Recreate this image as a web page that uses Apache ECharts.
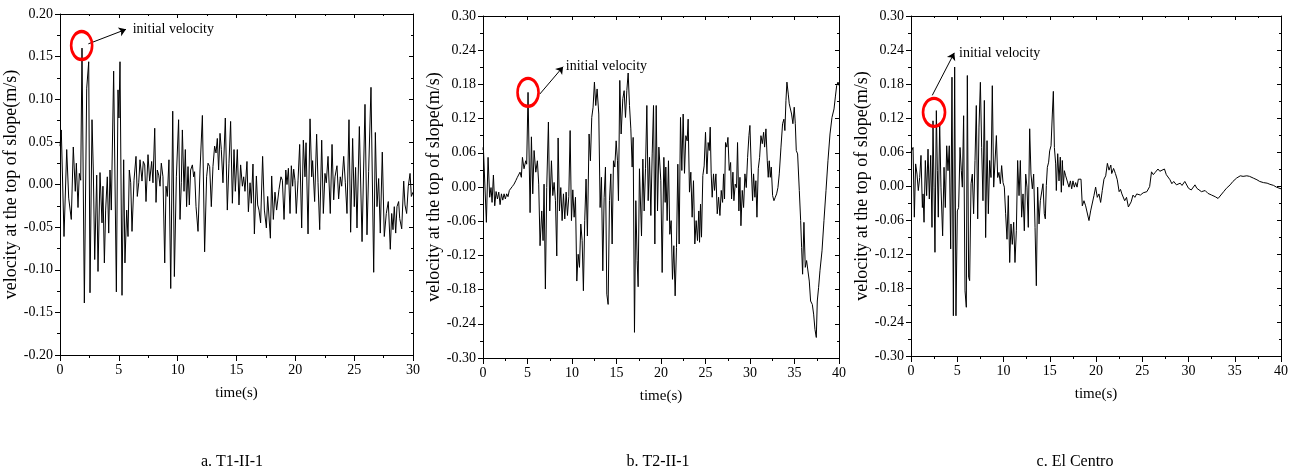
<!DOCTYPE html>
<html>
<head>
<meta charset="utf-8">
<script src="https://cdn.jsdelivr.net/npm/echarts@6/dist/echarts.min.js"></script>
<style>
html,body{margin:0;padding:0;background:#fff;}
#c{width:1294px;height:474px;}
</style>
</head>
<body>
<div id="c"></div>
<script>
// ---------------- DATA ----------------
const panelCaptions = ['a. T1-II-1', 'b. T2-II-1', 'c. El Centro'];
const xAxisTitle = 'time(s)';
const yAxisTitle = 'velocity at the top of slope(m/s)';
const annotationText = 'initial velocity';
const timeMax = [30, 40, 40];
const yRange = [[-0.20, 0.20], [-0.30, 0.30], [-0.30, 0.30]];
const yStep = [0.05, 0.06, 0.06];
const xStep = 5;

// [time (s), velocity (m/s)]
const seriesA = [[0,0.045],[0.11,0.064],[0.34,-0.061],[0.57,0.041],[0.74,-0.016],[0.96,-0.041],[1.13,0.044],[1.30,-0.008],[1.39,0.025],[1.53,-0.027],[1.64,0.013],[1.76,0.005],[1.87,0.160],[2.07,-0.139],[2.27,0.113],[2.44,0.144],[2.55,-0.127],[2.72,0.076],[2.83,0.017],[2.95,-0.088],[3.12,0.011],[3.23,-0.102],[3.40,0.014],[3.57,-0.045],[3.65,-0.002],[3.77,-0.092],[3.88,-0.030],[4.02,0.009],[4.14,-0.057],[4.25,0.017],[4.36,-0.030],[4.56,0.133],[4.79,-0.126],[4.93,0.111],[5.01,0.078],[5.10,0.144],[5.27,-0.130],[5.41,0.029],[5.52,-0.092],[5.67,-0.030],[5.78,-0.061],[5.89,0.017],[6.01,0.002],[6.12,-0.055],[6.29,0.005],[6.46,0.033],[6.57,-0.014],[6.69,0.002],[6.80,0.029],[6.97,0.004],[7.08,0.027],[7.20,0.023],[7.31,-0.020],[7.48,0.035],[7.62,0.004],[7.79,0.027],[7.90,0.002],[8.05,0.066],[8.16,-0.021],[8.27,0.017],[8.39,0.011],[8.50,-0.002],[8.61,0.025],[8.75,0.009],[8.90,-0.092],[9.01,-0.002],[9.12,-0.014],[9.26,0.029],[9.41,-0.122],[9.58,0.086],[9.72,-0.108],[9.89,0.009],[10.08,0.076],[10.20,-0.041],[10.31,0.002],[10.40,0.064],[10.54,-0.008],[10.65,0.041],[10.76,-0.026],[10.88,0.021],[10.99,-0.024],[11.10,0.017],[11.25,0.023],[11.36,0.009],[11.44,0.015],[11.56,-0.026],[11.73,-0.055],[11.90,0.017],[12.10,0.081],[12.29,-0.079],[12.46,0.009],[12.58,0.025],[12.72,0.021],[12.86,-0.026],[13.00,0.021],[13.14,0.045],[13.26,0.037],[13.37,0.054],[13.48,0.017],[13.60,0.060],[13.71,0.041],[13.85,0.002],[14.05,0.078],[14.22,-0.030],[14.36,0.025],[14.50,0.074],[14.65,-0.022],[14.79,0.041],[14.90,-0.008],[15.07,0.041],[15.21,-0.024],[15.35,0.023],[15.50,-0.002],[15.61,0.009],[15.72,-0.008],[15.89,0.027],[16.01,-0.032],[16.15,0.002],[16.26,-0.022],[16.40,0.024],[16.52,-0.058],[16.69,0.010],[16.80,-0.024],[16.91,-0.030],[17.05,-0.045],[17.22,0.033],[17.37,-0.030],[17.54,-0.051],[17.65,-0.014],[17.88,-0.063],[17.99,0.010],[18.13,-0.041],[18.27,-0.009],[18.41,-0.030],[18.61,-0.006],[18.78,0.009],[18.90,0.005],[19.04,-0.041],[19.19,0.017],[19.29,0.000],[19.41,0.019],[19.55,-0.034],[19.66,0.022],[19.77,-0.002],[19.86,0.018],[19.97,0.005],[20.08,-0.034],[20.23,0.005],[20.37,0.047],[20.54,-0.051],[20.68,0.052],[20.82,0.009],[20.91,0.049],[21.08,-0.058],[21.25,0.077],[21.39,0.009],[21.47,0.028],[21.64,-0.020],[21.81,0.059],[21.93,0.002],[22.07,-0.053],[22.24,0.052],[22.38,-0.034],[22.52,0.013],[22.63,0.002],[22.78,0.033],[22.97,-0.034],[23.12,0.047],[23.26,-0.018],[23.37,0.009],[23.54,0.022],[23.68,-0.017],[23.82,0.009],[23.94,-0.002],[24.11,0.033],[24.25,0.002],[24.39,-0.034],[24.56,0.076],[24.70,-0.056],[24.87,0.054],[25.01,-0.026],[25.12,0.020],[25.24,-0.051],[25.44,0.068],[25.67,-0.067],[25.92,0.094],[26.09,-0.059],[26.23,0.015],[26.43,0.114],[26.66,-0.103],[26.80,0.061],[26.94,-0.026],[27.08,0.007],[27.22,-0.057],[27.39,0.038],[27.56,-0.061],[27.73,-0.034],[27.90,-0.020],[28.07,-0.076],[28.19,-0.034],[28.30,-0.053],[28.41,-0.026],[28.53,-0.057],[28.64,-0.026],[28.78,-0.020],[28.87,-0.040],[29.04,-0.052],[29.21,0.004],[29.32,-0.024],[29.46,-0.034],[29.60,-0.002],[29.75,0.013],[29.86,-0.014],[30.00,-0.009]];

const seriesB = [[0,0.065],[0.04,0.070],[0.19,0.067],[0.38,-0.062],[0.57,0.052],[0.75,-0.018],[0.90,-0.001],[1.02,-0.027],[1.17,0.021],[1.32,-0.033],[1.47,-0.008],[1.62,-0.021],[1.77,-0.009],[1.92,-0.031],[2.07,-0.012],[2.22,-0.023],[2.37,-0.012],[2.51,-0.021],[2.66,-0.012],[2.81,-0.017],[2.96,-0.006],[3.11,-0.009],[3.30,0.001],[3.49,0.005],[3.68,0.011],[3.86,0.017],[4.05,0.018],[4.16,0.026],[4.31,0.017],[4.43,0.052],[4.61,0.032],[4.80,0.046],[4.91,0.040],[5.06,0.166],[5.29,-0.045],[5.44,0.088],[5.59,-0.012],[5.74,0.064],[5.93,0.026],[6.11,0.046],[6.26,0.005],[6.41,-0.103],[6.60,-0.042],[6.75,-0.094],[6.86,0.005],[7.01,-0.179],[7.16,-0.001],[7.35,0.114],[7.50,-0.042],[7.69,0.046],[7.84,-0.015],[7.99,0.008],[8.14,-0.024],[8.29,-0.121],[8.44,0.086],[8.59,-0.042],[8.74,-0.001],[8.89,-0.059],[9.04,-0.012],[9.19,-0.056],[9.34,-0.009],[9.49,-0.050],[9.64,-0.017],[9.79,0.099],[9.94,-0.059],[10.09,-0.005],[10.24,-0.053],[10.39,-0.018],[10.54,-0.165],[10.69,-0.118],[10.84,-0.141],[10.99,-0.065],[11.14,-0.094],[11.28,-0.182],[11.43,-0.059],[11.58,0.014],[11.73,-0.086],[11.92,0.093],[12.07,0.046],[12.22,0.122],[12.37,0.140],[12.52,0.184],[12.67,0.143],[12.82,0.172],[13.01,0.128],[13.16,-0.036],[13.31,0.017],[13.46,-0.147],[13.61,-0.018],[13.76,0.035],[13.91,-0.188],[14.06,-0.206],[14.21,-0.024],[14.36,0.023],[14.51,-0.100],[14.66,0.046],[14.81,0.035],[14.96,0.081],[15.11,0.046],[15.22,-0.024],[15.37,0.187],[15.52,0.093],[15.71,0.155],[15.86,0.169],[16.01,0.122],[16.16,0.169],[16.31,0.200],[16.46,0.143],[16.61,0.102],[16.76,0.035],[16.87,0.087],[17.02,-0.255],[17.17,-0.024],[17.32,-0.129],[17.43,-0.175],[17.58,0.032],[17.81,-0.086],[17.96,0.049],[18.11,-0.042],[18.26,0.032],[18.41,0.143],[18.56,-0.024],[18.71,0.052],[18.86,-0.050],[19.01,0.058],[19.16,0.143],[19.31,-0.100],[19.46,0.143],[19.61,-0.042],[19.76,0.070],[19.98,0.011],[20.13,-0.150],[20.32,0.052],[20.47,-0.027],[20.54,0.035],[20.69,-0.059],[20.84,0.046],[20.99,-0.083],[21.14,-0.059],[21.29,-0.162],[21.44,-0.103],[21.59,-0.191],[21.74,-0.106],[21.89,0.040],[22.04,-0.100],[22.19,0.122],[22.34,0.029],[22.49,0.128],[22.64,0.024],[22.79,0.090],[22.94,0.081],[23.05,0.119],[23.20,-0.009],[23.35,0.026],[23.50,-0.053],[23.65,0.011],[23.80,-0.100],[23.95,-0.059],[24.10,-0.094],[24.25,-0.042],[24.33,-0.097],[24.44,-0.030],[24.55,-0.088],[24.70,0.020],[24.85,0.037],[25.00,0.096],[25.16,0.023],[25.30,0.078],[25.42,0.064],[25.53,0.105],[25.64,0.023],[25.75,-0.018],[25.90,0.023],[26.02,-0.006],[26.17,0.023],[26.32,-0.047],[26.47,-0.018],[26.62,-0.050],[26.77,-0.006],[26.92,-0.027],[27.03,0.023],[27.14,-0.021],[27.25,0.078],[27.40,0.070],[27.52,0.087],[27.67,0.029],[27.82,0.043],[27.93,-0.021],[28.08,0.026],[28.19,-0.024],[28.34,0.005],[28.49,-0.001],[28.60,0.078],[28.75,-0.042],[28.87,0.017],[28.98,-0.068],[29.13,-0.006],[29.28,-0.036],[29.43,0.023],[29.58,-0.001],[29.73,0.052],[29.88,0.090],[29.99,0.108],[30.14,0.035],[30.29,-0.024],[30.40,0.023],[30.55,-0.018],[30.66,0.011],[30.78,-0.053],[30.93,0.032],[31.08,0.052],[31.23,0.090],[31.38,0.076],[31.53,0.096],[31.64,0.070],[31.79,0.102],[31.94,0.046],[32.05,0.017],[32.16,0.046],[32.28,0.017],[32.39,0.035],[32.54,-0.015],[32.69,-0.024],[32.84,-0.018],[32.99,-0.012],[33.14,-0.001],[33.29,0.023],[33.48,0.070],[33.66,0.111],[33.81,0.119],[33.92,0.099],[34.04,0.152],[34.15,0.184],[34.30,0.163],[34.41,0.146],[34.52,0.149],[34.67,0.128],[34.82,0.111],[34.97,0.140],[35.09,0.111],[35.20,0.064],[35.35,0.058],[35.54,-0.006],[35.69,-0.059],[35.80,-0.106],[35.91,-0.153],[36.06,-0.062],[36.21,-0.141],[36.36,-0.129],[36.51,-0.132],[36.66,-0.165],[36.81,-0.200],[37.00,-0.206],[37.15,-0.223],[37.30,-0.250],[37.45,-0.264],[37.56,-0.200],[37.71,-0.176],[37.86,-0.147],[38.09,-0.112],[38.31,-0.059],[38.54,-0.006],[38.76,0.046],[38.99,0.093],[39.21,0.122],[39.44,0.137],[39.59,0.158],[39.74,0.178],[39.89,0.184],[40.00,0.178]];

const seriesC = [[0,0.060],[0.07,0.062],[0.22,0.068],[0.36,-0.055],[0.50,0.039],[0.65,0.021],[0.79,-0.008],[0.94,0.015],[1.08,0.054],[1.23,-0.038],[1.30,-0.014],[1.41,-0.064],[1.55,0.045],[1.69,-0.017],[1.84,0.065],[1.98,-0.023],[2.13,0.054],[2.27,-0.073],[2.38,0.115],[2.49,-0.002],[2.59,-0.117],[2.74,0.133],[2.85,0.027],[2.95,-0.055],[3.10,0.110],[3.24,-0.002],[3.42,-0.088],[3.57,0.033],[3.71,-0.038],[3.86,0.071],[4.00,0.027],[4.14,0.071],[4.29,-0.111],[4.43,0.192],[4.58,-0.229],[4.72,0.210],[4.86,-0.229],[5.01,-0.044],[5.15,-0.038],[5.30,0.068],[5.44,0.027],[5.55,-0.002],[5.69,0.124],[5.84,-0.185],[5.98,-0.214],[6.09,0.195],[6.23,-0.161],[6.34,-0.167],[6.49,0.004],[6.63,0.021],[6.77,-0.049],[6.92,0.045],[7.06,0.142],[7.21,-0.058],[7.35,0.104],[7.50,0.183],[7.64,0.068],[7.78,-0.026],[7.93,0.151],[8.07,-0.091],[8.22,0.080],[8.36,-0.049],[8.50,0.045],[8.65,0.015],[8.79,0.177],[8.94,-0.002],[9.08,-0.002],[9.23,0.089],[9.37,0.015],[9.51,0.024],[9.66,0.004],[9.80,0.036],[9.95,0.006],[10.09,-0.002],[10.23,-0.049],[10.38,-0.094],[10.52,-0.017],[10.67,-0.135],[10.81,-0.067],[10.95,-0.103],[11.10,-0.064],[11.24,-0.135],[11.39,-0.079],[11.53,0.045],[11.68,-0.017],[11.82,0.045],[11.96,-0.055],[12.11,-0.014],[12.25,-0.079],[12.40,0.021],[12.54,-0.002],[12.68,-0.073],[12.83,0.101],[12.97,0.021],[13.12,-0.005],[13.26,0.021],[13.41,-0.073],[13.55,-0.176],[13.69,-0.002],[13.84,-0.067],[13.98,-0.026],[14.13,-0.026],[14.27,0.004],[14.41,-0.049],[14.52,-0.058],[14.63,0.001],[14.74,0.033],[14.88,0.042],[14.99,0.062],[15.14,0.071],[15.28,0.127],[15.39,0.167],[15.50,0.068],[15.64,0.039],[15.71,-0.008],[15.86,0.057],[16.00,0.009],[16.14,0.051],[16.25,-0.011],[16.36,0.045],[16.47,0.001],[16.58,0.027],[16.72,0.018],[16.90,0.015],[17.08,-0.002],[17.23,0.009],[17.37,-0.005],[17.51,0.009],[17.66,-0.002],[17.80,0.006],[17.95,-0.002],[18.09,0.012],[18.23,0.009],[18.38,0.012],[18.52,-0.035],[18.70,-0.026],[18.88,-0.035],[19.06,-0.032],[19.24,-0.061],[19.42,-0.044],[19.60,-0.047],[19.78,-0.017],[19.96,-0.002],[20.14,-0.020],[20.32,-0.014],[20.50,-0.029],[20.68,-0.008],[20.86,0.012],[21.05,0.018],[21.23,0.040],[21.41,0.028],[21.6,0.037],[21.7,0.022],[21.9,0.031],[22.1,0.022],[22.3,0.011],[22.5,-0.010],[22.65,-0.006],[22.8,-0.014],[23.1,-0.026],[23.3,-0.020],[23.5,-0.037],[23.8,-0.028],[24.0,-0.016],[24.2,-0.020],[24.4,-0.014],[24.6,-0.012],[24.8,-0.016],[25.1,-0.012],[25.3,-0.015],[25.5,-0.010],[25.8,-0.001],[26.0,0.025],[26.2,0.020],[26.4,0.024],[26.7,0.030],[26.9,0.026],[27.1,0.024],[27.4,0.030],[27.6,0.020],[28.0,0.011],[28.2,0.004],[28.4,0.008],[28.7,0.002],[29.1,0.005],[29.3,0.001],[29.5,-0.001],[29.6,0.008],[30.0,-0.004],[30.3,-0.007],[30.7,0.002],[30.9,-0.004],[31.1,-0.007],[31.4,-0.010],[31.8,-0.008],[32.1,-0.013],[32.5,-0.016],[32.9,-0.019],[33.2,-0.022],[33.4,-0.019],[33.8,-0.010],[34.1,-0.004],[34.5,0.002],[34.8,0.008],[35.2,0.014],[35.6,0.018],[35.9,0.017],[36.3,0.018],[36.6,0.017],[37.0,0.014],[37.4,0.011],[37.7,0.008],[38.1,0.006],[38.5,0.005],[38.8,0.003],[39.2,0.001],[39.5,-0.002],[40.0,-0.005]];

// annotation anchors in data units: circle centre, arrow start, arrow end, text start
const circleAt = [[1.84, 0.163], [5.06, 0.166], [2.49, 0.130]];
const arrowFrom = [[2.41, 0.165], [6.38, 0.163], [2.30, 0.160]];
const arrowTo = [[5.61, 0.182], [9.00, 0.211], [4.68, 0.235]];
const textAt = [[6.18, 0.182], [9.30, 0.211], [5.19, 0.235]];

// ---------------- LAYOUT / STYLE ----------------
const FONT = '"Liberation Serif", "Times New Roman", serif';
const grids = [
  {left: 60, top: 14, width: 353, height: 341},
  {left: 483, top: 16, width: 356, height: 342},
  {left: 911, top: 16, width: 370, height: 340}
];
const ellipseSize = [[21, 28], [21, 28], [22, 28]];
const captionPos = [[232, 462], [658, 462], [1075, 462]];
const ELLIPSE = 'path://M0,-10C5.52,-10,10,-5.52,10,0C10,5.52,5.52,10,0,10C-5.52,10,-10,5.52,-10,0C-10,-5.52,-5.52,-10,0,-10Z';

const allSeries = [seriesA, seriesB, seriesC];

const xAxes = [], yAxes = [], series = [], graphics = [];
const fmtY = v => (Math.abs(v) < 1e-9 ? '0.00' : v.toFixed(2));

for (let i = 0; i < 3; i++) {
  const line = {show: true, onZero: false, lineStyle: {color: '#000', width: 1}};
  xAxes.push({
    gridIndex: i, type: 'value', position: 'bottom', min: 0, max: timeMax[i], interval: xStep,
    axisLine: line,
    axisTick: {show: true, inside: false, length: 6, lineStyle: {color: '#000'}},
    minorTick: {show: true, splitNumber: 2, length: 3, lineStyle: {color: '#000'}},
    splitLine: {show: false}, minorSplitLine: {show: false},
    axisLabel: {color: '#000', fontFamily: FONT, fontSize: 14, margin: 8},
    name: xAxisTitle, nameLocation: 'middle', nameGap: 31,
    nameTextStyle: {color: '#000', fontFamily: FONT, fontSize: 15}
  });
  xAxes.push({
    gridIndex: i, type: 'value', position: 'top', min: 0, max: timeMax[i], interval: xStep,
    axisLine: line,
    axisTick: {show: true, inside: true, length: 4, lineStyle: {color: '#000'}},
    minorTick: {show: true, splitNumber: 2, length: 2, lineStyle: {color: '#000'}},
    splitLine: {show: false}, minorSplitLine: {show: false},
    axisLabel: {show: false}
  });
  yAxes.push({
    gridIndex: i, type: 'value', position: 'left', min: yRange[i][0], max: yRange[i][1], interval: yStep[i],
    axisLine: line,
    axisTick: {show: true, inside: false, length: 5, lineStyle: {color: '#000'}},
    minorTick: {show: true, splitNumber: 2, length: 3, lineStyle: {color: '#000'}},
    splitLine: {show: false}, minorSplitLine: {show: false},
    axisLabel: {color: '#000', fontFamily: FONT, fontSize: 14, margin: 7, formatter: fmtY},
    name: yAxisTitle, nameLocation: 'middle', nameGap: 35, nameRotate: 90,
    nameTextStyle: {color: '#000', fontFamily: FONT, fontSize: 18}
  });
  yAxes.push({
    gridIndex: i, type: 'value', position: 'right', min: yRange[i][0], max: yRange[i][1], interval: yStep[i],
    axisLine: line,
    axisTick: {show: true, inside: true, length: 4, lineStyle: {color: '#000'}},
    minorTick: {show: true, splitNumber: 2, length: 2, lineStyle: {color: '#000'}},
    splitLine: {show: false}, minorSplitLine: {show: false},
    axisLabel: {show: false}
  });
  series.push({
    type: 'line', xAxisIndex: 2 * i, yAxisIndex: 2 * i,
    data: allSeries[i], showSymbol: false, symbol: 'none',
    lineStyle: {color: '#000', width: 1}, silent: true, z: 2,
    markPoint: {
      silent: true, animation: false,
      data: [
        {coord: circleAt[i], symbol: ELLIPSE, symbolSize: ellipseSize[i],
         itemStyle: {color: 'rgba(0,0,0,0)', borderColor: '#ff0000', borderWidth: 3},
         label: {show: false}},
        {coord: textAt[i], symbol: 'circle', symbolSize: 0,
         itemStyle: {color: 'rgba(0,0,0,0)'},
         label: {show: true, position: 'right', distance: 0, formatter: annotationText,
                 color: '#000', fontFamily: FONT, fontSize: 14}}
      ]
    },
    markLine: {
      silent: true, animation: false, symbol: ['none', 'arrow'], symbolSize: 7,
      lineStyle: {color: '#000', width: 1, type: 'solid'},
      label: {show: false},
      data: [[{coord: arrowFrom[i]}, {coord: arrowTo[i]}]]
    }
  });
  graphics.push({
    type: 'text', x: captionPos[i][0], y: captionPos[i][1],
    style: {text: panelCaptions[i], fill: '#000', font: '16px ' + FONT, textAlign: 'center', textVerticalAlign: 'middle'}
  });
}

const chart = echarts.init(document.getElementById('c'), null, {renderer: 'canvas'});
chart.setOption({
  animation: false,
  backgroundColor: '#fff',
  grid: grids.map(g => Object.assign({outerBoundsMode: 'none', containLabel: false}, g)),
  xAxis: xAxes,
  yAxis: yAxes,
  series: series,
  graphic: graphics
});
</script>
</body>
</html>
